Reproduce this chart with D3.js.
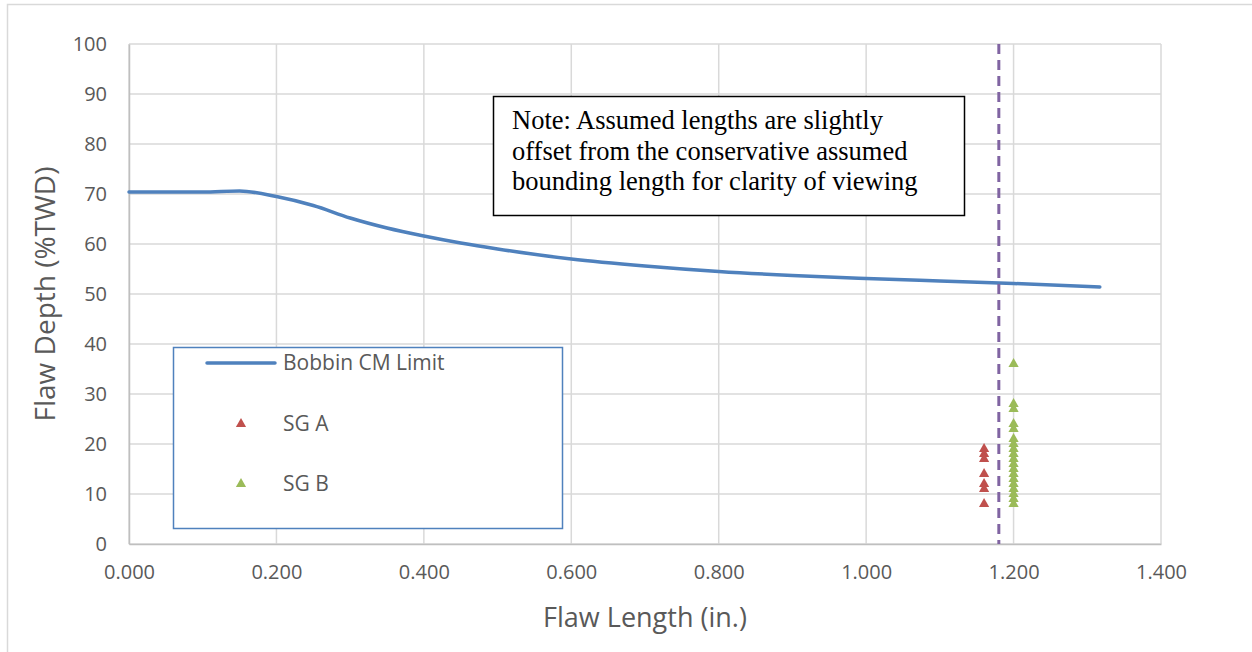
<!DOCTYPE html>
<html>
<head>
<meta charset="utf-8">
<script src="https://cdn.jsdelivr.net/npm/d3@7"></script>
<style>
  html, body { margin: 0; padding: 0; background: #fff; }
  svg { display: block; }
</style>
</head>
<body>
<svg id="chart" width="1252" height="652"></svg>
<script>
// ---- data ----
const limitLength = [0.000, 0.050, 0.100, 0.150, 0.200, 0.250, 0.300, 0.350, 0.400, 0.450, 0.500, 0.600, 0.700, 0.800, 0.900, 1.000, 1.100, 1.200, 1.317];
const limitDepth  = [70.4, 70.4, 70.4, 70.6, 69.5, 67.7, 65.2, 63.2, 61.6, 60.2, 59.0, 57.0, 55.6, 54.5, 53.7, 53.1, 52.6, 52.1, 51.4];

const sgALength = 1.160;
const sgADepth = [19, 18, 17, 14, 12, 11, 8];
const sgBLength = 1.200;
const sgBDepth = [36, 28, 27, 24, 23, 21, 20, 19, 18, 17, 16, 15, 14, 13, 12, 11, 10, 9, 8];

const boundingLength = 1.180;

const xTicks = [0, 0.2, 0.4, 0.6, 0.8, 1.0, 1.2, 1.4];
const yTicks = [0, 10, 20, 30, 40, 50, 60, 70, 80, 90, 100];

const seriesNames = ["Bobbin CM Limit", "SG A", "SG B"];
const noteLines = [
  "Note: Assumed lengths are slightly",
  "offset from the conservative assumed",
  "bounding length for clarity of viewing"
];

// ---- layout ----
const svg = d3.select("#chart");
const plot = { left: 129, right: 1161, top: 44, bottom: 544 };
const x = d3.scaleLinear().domain([0, 1.4]).range([plot.left, plot.right]);
const y = d3.scaleLinear().domain([0, 100]).range([plot.bottom, plot.top]);

const tickFont = "'Open Sans', 'Noto Sans', sans-serif";
const gridColor = "#d9d9d9";
const textColor = "#595959";
const colA = "#C0504D", colB = "#9BBB59", colLine = "#4F81BD", colDash = "#8064A2";

// outer chart border
svg.append("rect").attr("x", 7.5).attr("y", 4.5).attr("width", 1260).attr("height", 660)
  .attr("fill", "#fff").attr("stroke", gridColor).attr("stroke-width", 1.5);

// gridlines
svg.append("g").selectAll("line.h").data(yTicks).join("line")
  .attr("x1", plot.left).attr("x2", plot.right)
  .attr("y1", d => y(d)).attr("y2", d => y(d))
  .attr("stroke", gridColor).attr("stroke-width", 1.5);
svg.append("g").selectAll("line.v").data(xTicks).join("line")
  .attr("x1", d => x(d)).attr("x2", d => x(d))
  .attr("y1", plot.top).attr("y2", plot.bottom)
  .attr("stroke", gridColor).attr("stroke-width", 1.5);

// axes (tick labels only)
const xAxis = svg.append("g").attr("transform", `translate(0,${plot.bottom})`)
  .call(d3.axisBottom(x).tickValues(xTicks).tickFormat(d3.format(".3f")).tickSize(0).tickPadding(21));
xAxis.select(".domain").attr("stroke", "#bfbfbf").attr("stroke-width", 1.5);
xAxis.selectAll("text").attr("fill", textColor).style("font-family", tickFont).style("font-size", "20px");

const yAxis = svg.append("g").attr("transform", `translate(${plot.left},0)`)
  .call(d3.axisLeft(y).tickValues(yTicks).tickFormat(d3.format("d")).tickSize(0).tickPadding(22));
yAxis.select(".domain").attr("stroke", "#bfbfbf").attr("stroke-width", 1.5);
yAxis.selectAll("text").attr("fill", textColor).style("font-family", tickFont).style("font-size", "20px");

// axis titles
svg.append("text").attr("x", (plot.left + plot.right) / 2).attr("y", 627)
  .attr("text-anchor", "middle").attr("fill", textColor)
  .style("font-family", tickFont).style("font-size", "27px").text("Flaw Length (in.)");
svg.append("text").attr("transform", `translate(55,${(plot.top + plot.bottom) / 2}) rotate(-90)`)
  .attr("text-anchor", "middle").attr("fill", textColor)
  .style("font-family", tickFont).style("font-size", "28px").text("Flaw Depth (%TWD)");

// limit curve
const limitData = limitLength.map((l, i) => ({ l, d: limitDepth[i] }));
svg.append("path").datum(limitData)
  .attr("fill", "none").attr("stroke", colLine).attr("stroke-width", 3.5).attr("stroke-linecap", "round")
  .attr("d", d3.line().x(p => x(p.l)).y(p => y(p.d)).curve(d3.curveMonotoneX));

// bounding length dashed line
svg.append("line").attr("x1", x(boundingLength)).attr("x2", x(boundingLength))
  .attr("y1", y(100)).attr("y2", y(0))
  .attr("stroke", colDash).attr("stroke-width", 3).attr("stroke-dasharray", "10,6");

// markers
const tri = d3.symbol().type(d3.symbolTriangle).size(45);
svg.append("g").selectAll("path").data(sgADepth).join("path")
  .attr("d", tri).attr("fill", colA)
  .attr("transform", d => `translate(${x(sgALength)},${y(d)})`);
svg.append("g").selectAll("path").data(sgBDepth).join("path")
  .attr("d", tri).attr("fill", colB)
  .attr("transform", d => `translate(${x(sgBLength)},${y(d)})`);

// legend
const lg = svg.append("g");
lg.append("rect").attr("x", 173.5).attr("y", 347.5).attr("width", 389).attr("height", 181)
  .attr("fill", "#fff").attr("stroke", colLine).attr("stroke-width", 1.5);
lg.append("line").attr("x1", 207).attr("x2", 275).attr("y1", 363).attr("y2", 363)
  .attr("stroke", colLine).attr("stroke-width", 3.5).attr("stroke-linecap", "round");
lg.append("path").attr("d", tri).attr("fill", colA).attr("transform", "translate(241,424)");
lg.append("path").attr("d", tri).attr("fill", colB).attr("transform", "translate(241,484)");
const legendY = [363, 424, 484];
lg.selectAll("text").data(seriesNames).join("text")
  .attr("x", 283).attr("y", (d, i) => legendY[i]).attr("dy", "0.35em")
  .attr("fill", textColor).style("font-family", tickFont).style("font-size", "21px")
  .text(d => d);

// note box
const nb = svg.append("g");
nb.append("rect").attr("x", 493.5).attr("y", 96.5).attr("width", 471).attr("height", 119)
  .attr("fill", "#fff").attr("stroke", "#000").attr("stroke-width", 1.5);
nb.selectAll("text").data(noteLines).join("text")
  .attr("x", 512).attr("y", (d, i) => 129 + i * 30.5)
  .attr("fill", "#000").style("font-family", "'Liberation Serif', 'Times New Roman', serif").style("font-size", "26.5px")
  .text(d => d);
</script>
</body>
</html>
